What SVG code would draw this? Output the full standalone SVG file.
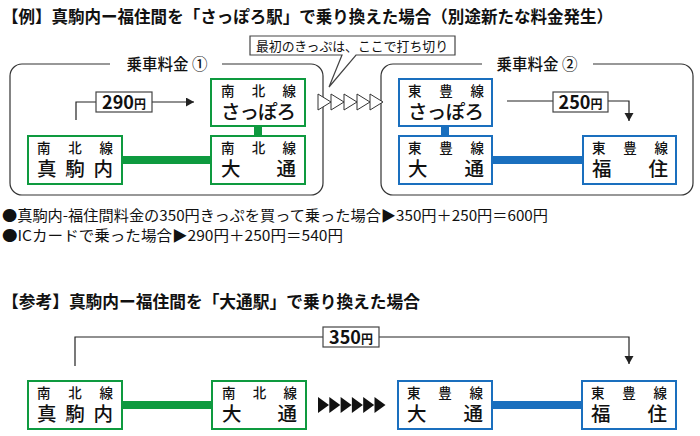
<svg xmlns="http://www.w3.org/2000/svg" width="700" height="436" viewBox="0 0 700 436">
<defs>
<style>
text{font-family:"Noto Sans CJK JP","Noto Sans",sans-serif;fill:#111}
.h{font-size:16.5px;font-weight:700}
.t{font-size:13.5px;font-weight:500}
.l{font-size:19.5px;font-weight:500}
.f{font-size:15.5px;font-weight:500}
.u{font-size:14.5px}
.p{font-size:18px;font-weight:700}
.py{font-size:12px;font-weight:700}
.g{fill:#fff;stroke:#0e9a3f;stroke-width:2}
.b{fill:#fff;stroke:#1a6fbe;stroke-width:2}
.gl{fill:#0e9a3f}
.bl{fill:#1a6fbe}
.fr{fill:none;stroke:#333;stroke-width:1.2}
.ln{fill:none;stroke:#222;stroke-width:1.2}
.lb{fill:#fff;stroke:#444;stroke-width:1.2}
.ch{fill:#fff;stroke:#333;stroke-width:1}
.cs{fill:#111}
</style>
<marker id="ah" markerUnits="userSpaceOnUse" markerWidth="10" markerHeight="10" refX="8" refY="4.5" orient="auto">
<path d="M0,0 L8,4.5 L0,9 Z" fill="#222"/>
</marker>
</defs>
<rect width="700" height="436" fill="#fff"/>

<text class="h" x="2" y="23" textLength="611" lengthAdjust="spacingAndGlyphs">【例】真駒内ー福住間を「さっぽろ駅」で乗り換えた場合（別途新たな料金発生）</text>

<g id="frame1">
<path class="fr" d="M222,64 H311 A12,12 0 0 1 323,76 V183 A12,12 0 0 1 311,195 H22 A12,12 0 0 1 10,183 V76 A12,12 0 0 1 22,64 H110"/>
<text class="f" x="167" y="70" text-anchor="middle">乗車料金 ①</text>
</g>
<g id="frame2">
<path class="fr" d="M593,64 H681 A12,12 0 0 1 693,76 V183 A12,12 0 0 1 681,195 H393 A12,12 0 0 1 381,183 V76 A12,12 0 0 1 393,64 H482"/>
<text class="f" x="537" y="70" text-anchor="middle">乗車料金 ②</text>
</g>

<g id="connectors">
<rect class="gl" x="122" y="156" width="89" height="8"/>
<rect class="gl" x="254" y="126" width="8" height="10"/>
<rect class="bl" x="492" y="156" width="91" height="8"/>
<rect class="bl" x="441" y="126" width="8" height="10"/>
<rect class="gl" x="122" y="401" width="90" height="8"/>
<rect class="bl" x="492" y="401" width="90" height="8"/>
<path class="ln" d="M76,120 V102 H96"/>
<path class="ln" d="M152,102 H194" marker-end="url(#ah)"/>
<path class="ln" d="M507,101 H553"/>
<path class="ln" d="M608,101 H629 V121" marker-end="url(#ah)"/>
<path class="ln" d="M75,366 V337 H323"/>
<path class="ln" d="M379,337 H629 V364" marker-end="url(#ah)"/>
</g>

<g id="fare290">
<rect class="lb" x="96" y="92" width="56" height="20"/>
<text x="124" y="109" text-anchor="middle"><tspan class="p">290</tspan><tspan class="py">円</tspan></text>
</g>
<g id="fare250">
<rect class="lb" x="553" y="92" width="55" height="20"/>
<text x="580.5" y="109" text-anchor="middle"><tspan class="p">250</tspan><tspan class="py">円</tspan></text>
</g>
<g id="fare350">
<rect class="lb" x="323" y="327" width="56" height="20"/>
<text x="351" y="344" text-anchor="middle"><tspan class="p">350</tspan><tspan class="py">円</tspan></text>
</g>

<g id="callout">
<path class="lb" d="M250,36 H455 V55 H356 L329,87 L342,55 H250 Z"/>
<text x="352" y="51" text-anchor="middle" font-size="13" textLength="192" lengthAdjust="spacingAndGlyphs">最初のきっぷは、ここで打ち切り</text>
</g>

<g id="chevrons-outline">
<path class="ch" d="M318,94 L331,102 L318,110 Z"/>
<path class="ch" d="M331,94 L344,102 L331,110 Z"/>
<path class="ch" d="M344,94 L357,102 L344,110 Z"/>
<path class="ch" d="M357,94 L370,102 L357,110 Z"/>
<path class="ch" d="M370,94 L383,102 L370,110 Z"/>
</g>

<g id="n1">
<rect class="g" x="28" y="136" width="94" height="48"/>
<text class="t" x="37" y="153" textLength="76" lengthAdjust="spacing">南北線</text>
<text class="l" x="37" y="176" textLength="76" lengthAdjust="spacing">真駒内</text>
</g>
<g id="n2">
<rect class="g" x="211" y="79" width="94" height="47"/>
<text class="t" x="221" y="96" textLength="75" lengthAdjust="spacing">南北線</text>
<text class="l" x="221" y="119" textLength="75" lengthAdjust="spacing">さっぽろ</text>
</g>
<g id="n3">
<rect class="g" x="211" y="136" width="94" height="48"/>
<text class="t" x="221" y="153" textLength="75" lengthAdjust="spacing">南北線</text>
<text class="l" x="221" y="176" textLength="75" lengthAdjust="spacing">大通</text>
</g>
<g id="n4">
<rect class="b" x="399" y="79" width="93" height="47"/>
<text class="t" x="408" y="96" textLength="76" lengthAdjust="spacing">東豊線</text>
<text class="l" x="408" y="119" textLength="76" lengthAdjust="spacing">さっぽろ</text>
</g>
<g id="n5">
<rect class="b" x="399" y="136" width="93" height="48"/>
<text class="t" x="408" y="153" textLength="76" lengthAdjust="spacing">東豊線</text>
<text class="l" x="408" y="176" textLength="76" lengthAdjust="spacing">大通</text>
</g>
<g id="n6">
<rect class="b" x="583" y="136" width="93" height="48"/>
<text class="t" x="592" y="153" textLength="76" lengthAdjust="spacing">東豊線</text>
<text class="l" x="592" y="176" textLength="76" lengthAdjust="spacing">福住</text>
</g>

<text class="u" x="2" y="221" textLength="546" lengthAdjust="spacingAndGlyphs">●真駒内-福住間料金の350円きっぷを買って乗った場合▶350円＋250円＝600円</text>
<text class="u" x="2" y="241" textLength="341" lengthAdjust="spacingAndGlyphs">●ICカードで乗った場合▶290円＋250円＝540円</text>

<text class="h" x="2" y="308" textLength="418" lengthAdjust="spacingAndGlyphs">【参考】真駒内ー福住間を「大通駅」で乗り換えた場合</text>

<g id="chevrons-solid">
<path class="cs" d="M318,397 L329,405 L318,413 Z"/>
<path class="cs" d="M329.3,397 L340.3,405 L329.3,413 Z"/>
<path class="cs" d="M340.6,397 L351.6,405 L340.6,413 Z"/>
<path class="cs" d="M351.9,397 L362.9,405 L351.9,413 Z"/>
<path class="cs" d="M363.2,397 L374.2,405 L363.2,413 Z"/>
<path class="cs" d="M374.5,397 L385.5,405 L374.5,413 Z"/>
</g>

<g id="m1">
<rect class="g" x="28" y="381" width="94" height="48"/>
<text class="t" x="37" y="398" textLength="76" lengthAdjust="spacing">南北線</text>
<text class="l" x="37" y="421" textLength="76" lengthAdjust="spacing">真駒内</text>
</g>
<g id="m2">
<rect class="g" x="212" y="381" width="94" height="48"/>
<text class="t" x="222" y="398" textLength="75" lengthAdjust="spacing">南北線</text>
<text class="l" x="222" y="421" textLength="75" lengthAdjust="spacing">大通</text>
</g>
<g id="m3">
<rect class="b" x="398" y="381" width="94" height="48"/>
<text class="t" x="407" y="398" textLength="76" lengthAdjust="spacing">東豊線</text>
<text class="l" x="407" y="421" textLength="76" lengthAdjust="spacing">大通</text>
</g>
<g id="m4">
<rect class="b" x="582" y="381" width="94" height="48"/>
<text class="t" x="591" y="398" textLength="76" lengthAdjust="spacing">東豊線</text>
<text class="l" x="591" y="421" textLength="76" lengthAdjust="spacing">福住</text>
</g>
</svg>
